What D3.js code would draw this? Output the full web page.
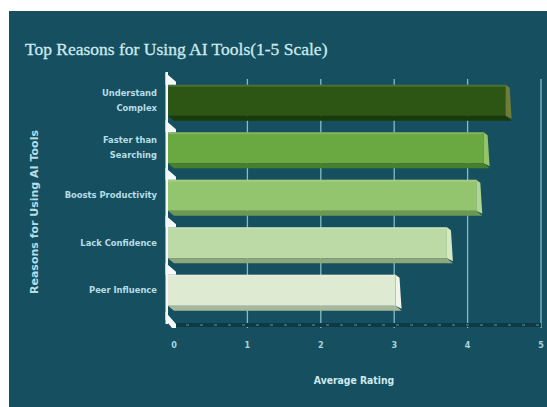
<!DOCTYPE html>
<html>
<head>
<meta charset="utf-8">
<script src="https://cdn.jsdelivr.net/npm/d3@7"></script>
<style>
  body { margin: 0; background: #fff; }
  svg { display: block; }
</style>
</head>
<body>
<div id="chart"></div>
<script>
const categories = ["Understand Complex", "Faster than Searching", "Boosts Productivity", "Lack Confidence", "Peer Influence"];
const labelLines = [["Understand", "Complex"], ["Faster than", "Searching"], ["Boosts Productivity"], ["Lack Confidence"], ["Peer Influence"]];
const ratings = [4.6, 4.3, 4.2, 3.8, 3.1];
const ticks = [0, 1, 2, 3, 4, 5];

// front face / end face / under strip per bar
const palette = [
  {front: "#2d5614", end: "#6f7d38", under: "#1b3a0a"},
  {front: "#6aa842", end: "#93c468", under: "#497f2c"},
  {front: "#93c46e", end: "#b2d690", under: "#6c9850"},
  {front: "#bcdaa6", end: "#d4e8c2", under: "#8ea87c"},
  {front: "#dfead2", end: "#f0f5e8", under: "#a9b79c"}
];

const W = 547, H = 407;
const svg = d3.select("#chart").append("svg").attr("width", W).attr("height", H);

svg.append("rect").attr("x", 9).attr("y", 11).attr("width", W - 9).attr("height", H - 11)
  .attr("fill", "#165060");

const xBack = d3.scaleLinear().domain([0, 5]).range([174, 541]);
const xFront = d3.scaleLinear().domain([0, 5]).range([168, 535]);
const y = d3.scaleBand().domain(categories).range([79, 316.5]).paddingInner(0.24).paddingOuter(0.12);
const depth = 6, under = 5;

// title
svg.append("text").attr("x", 25).attr("y", 55)
  .attr("font-family", "Liberation Serif, serif").attr("font-size", 17.5)
  .attr("fill", "#cde9ee").attr("stroke", "#cde9ee").attr("stroke-width", 0.3)
  .text("Top Reasons for Using AI Tools(1-5 Scale)");

// gridlines on back wall
svg.append("g").selectAll("line").data(ticks.slice(1)).join("line")
  .attr("x1", d => xBack(d)).attr("x2", d => xBack(d))
  .attr("y1", 79).attr("y2", 328)
  .attr("stroke", "#86bcc6").attr("stroke-width", 1.3);

// floor
svg.append("line").attr("x1", 170).attr("x2", 541).attr("y1", 325).attr("y2", 325)
  .attr("stroke", "#0d3a46").attr("stroke-width", 4);
svg.append("line").attr("x1", 172).attr("x2", 541).attr("y1", 325).attr("y2", 325)
  .attr("stroke", "#5f97a2").attr("stroke-width", 1).attr("stroke-dasharray", "3,11");

// bars
const bars = svg.append("g").selectAll("g.bar")
  .data(categories.map((c, i) => ({c, v: ratings[i], i})))
  .join("g").attr("class", "bar");

const bh = y.bandwidth() - under;

bars.append("rect")
  .attr("x", xFront(0)).attr("y", d => y(d.c))
  .attr("width", d => xFront(d.v) - xFront(0)).attr("height", bh)
  .attr("fill", d => palette[d.i].front);

bars.append("path")
  .attr("d", d => {
    let x0 = xFront(0), x1 = xFront(d.v), yb = y(d.c) + bh;
    return `M${x0},${yb}L${x1},${yb}L${x1 + depth},${yb + under}L${x0 + depth},${yb + under}Z`;
  })
  .attr("fill", d => palette[d.i].under);

bars.append("path")
  .attr("d", d => {
    let x1 = xFront(d.v), yt = y(d.c);
    return `M${x1},${yt}L${x1 + depth - 2},${yt + 3}L${x1 + depth},${yt + bh + under - 2}L${x1},${yt + bh}Z`;
  })
  .attr("fill", d => palette[d.i].end);

// top highlight
bars.append("rect")
  .attr("x", xFront(0)).attr("y", d => y(d.c))
  .attr("width", d => xFront(d.v) - xFront(0)).attr("height", 2)
  .attr("fill", "#ffffff").attr("opacity", 0.15);

// left wall
const wall = svg.append("g").attr("fill", "#f4f8f8");
wall.append("rect").attr("x", 165.5).attr("y", 72).attr("width", 2.5).attr("height", 252);
wall.selectAll("path").data(categories).join("path")
  .attr("d", d => {
    let t = y(d) - 12;
    return `M165.5,${t}L176,${t + 9}L176,${t + 12}L165.5,${t + 12}Z`;
  });
wall.append("path").attr("d", "M165.5,312L176,324L176,328L172,328L165.5,320Z");

// x tick labels
svg.append("g").selectAll("text").data(ticks).join("text")
  .attr("x", d => xBack(d)).attr("y", 348)
  .attr("text-anchor", "middle")
  .attr("font-family", "DejaVu Sans Condensed, DejaVu Sans, sans-serif")
  .attr("font-size", 9).attr("font-weight", "bold")
  .attr("fill", "#a9d3dc").text(d => d);

// category labels
const cl = svg.append("g").selectAll("text").data(categories).join("text")
  .attr("text-anchor", "end")
  .attr("font-family", "DejaVu Sans Condensed, DejaVu Sans, sans-serif")
  .attr("font-size", 9.3).attr("font-weight", "bold")
  .attr("fill", "#b6dde5")
  .attr("y", (d, i) => y(d) + bh / 2 + 3 - (labelLines[i].length - 1) * 7.5);
cl.selectAll("tspan").data((d, i) => labelLines[i]).join("tspan")
  .attr("x", 157).attr("dy", (d, j) => j === 0 ? 0 : 15).text(d => d);

// axis titles
svg.append("text").attr("x", 354).attr("y", 384).attr("text-anchor", "middle")
  .attr("font-family", "DejaVu Sans Condensed, DejaVu Sans, sans-serif")
  .attr("font-size", 10.3).attr("font-weight", "bold")
  .attr("fill", "#cfe8ee").text("Average Rating");

svg.append("text").attr("transform", "translate(38,212) rotate(-90)").attr("text-anchor", "middle")
  .attr("font-family", "DejaVu Sans, sans-serif")
  .attr("font-size", 11).attr("font-weight", "bold")
  .attr("fill", "#b6dde5").text("Reasons for Using AI Tools");
</script>
</body>
</html>
